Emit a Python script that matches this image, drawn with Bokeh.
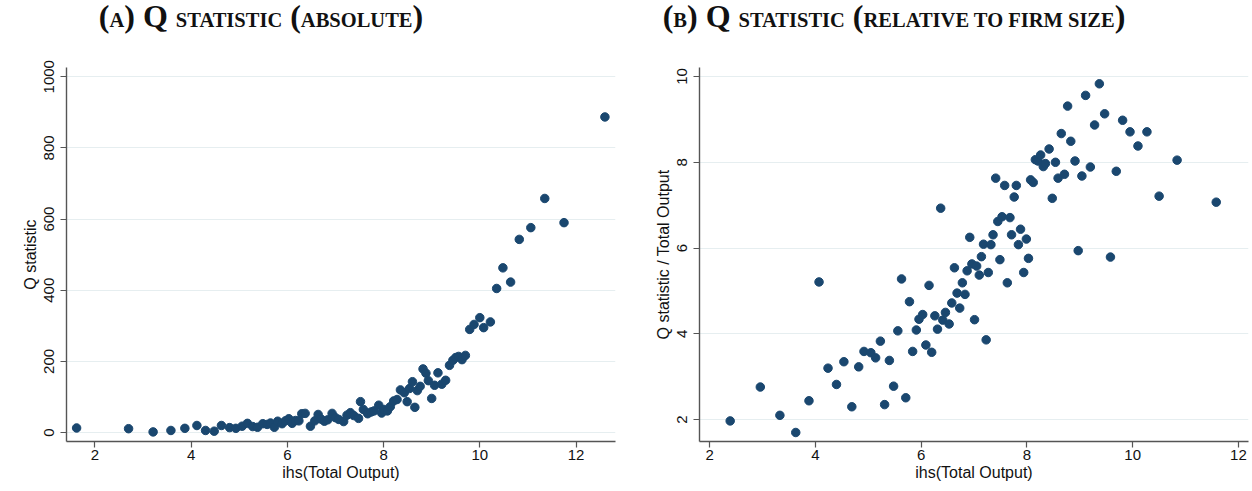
from bokeh.plotting import figure
from bokeh.layouts import row, column
from bokeh.models import Div, FixedTicker, Range1d
from bokeh.embed import file_html
from bokeh.resources import INLINE

# ---- data ----
abs_x = [1.62, 2.70, 3.21, 3.58, 3.87, 4.12, 4.30, 4.48, 4.63, 4.80, 4.93, 5.06, 5.17, 5.28,
         5.38, 5.49, 5.58, 5.65, 5.73, 5.80, 5.89, 5.96, 6.03, 6.10, 6.17, 6.24, 6.30, 6.37,
         6.48, 6.57, 6.64, 6.70, 6.77, 6.84, 6.93, 7.00, 7.07, 7.17, 7.24, 7.31, 7.38, 7.48,
         7.52, 7.58, 7.67, 7.74, 7.80, 7.90, 7.96, 8.01, 8.08, 8.14, 8.21, 8.28, 8.35, 8.43,
         8.49, 8.54, 8.60, 8.65, 8.70, 8.76, 8.82, 8.88, 8.93, 9.00, 9.06, 9.13, 9.21, 9.29,
         9.37, 9.44, 9.50, 9.56, 9.63, 9.70, 9.79, 9.88, 10.00, 10.08, 10.22, 10.35, 10.48,
         10.64, 10.82, 11.06, 11.35, 11.75, 12.60]
abs_y = [13, 11, 2, 6, 12, 20, 6, 4, 20, 14, 12, 18, 26, 17,
         15, 25, 23, 27, 15, 32, 25, 33, 39, 26, 34, 33, 53, 54,
         18, 33, 51, 38, 32, 36, 54, 42, 37, 31, 49, 56, 48, 40,
         87, 65, 53, 58, 61, 77, 55, 65, 61, 73, 89, 93, 120, 112,
         87, 124, 143, 71, 118, 130, 179, 167, 146, 96, 133, 168, 136, 147,
         189, 203, 211, 214, 205, 217, 290, 304, 323, 295, 311, 405, 463,
         423, 543, 576, 658, 590, 887]

rel_x = [2.39, 2.96, 3.33, 3.63, 3.88, 4.07, 4.24, 4.40, 4.54, 4.69, 4.82, 4.92, 5.05, 5.14,
         5.23, 5.31, 5.40, 5.48, 5.56, 5.63, 5.71, 5.78, 5.84, 5.91, 5.96, 6.03, 6.09, 6.15,
         6.20, 6.26, 6.31, 6.37, 6.41, 6.46, 6.53, 6.58, 6.63, 6.68, 6.73, 6.78, 6.83, 6.87,
         6.92, 6.96, 7.01, 7.05, 7.10, 7.14, 7.18, 7.23, 7.27, 7.32, 7.36, 7.41, 7.45, 7.49,
         7.53, 7.58, 7.63, 7.68, 7.71, 7.76, 7.80, 7.84, 7.88, 7.94, 7.99, 8.03, 8.07, 8.12,
         8.16, 8.21, 8.26, 8.31, 8.35, 8.42, 8.48, 8.54, 8.59, 8.65, 8.71, 8.77, 8.83, 8.91,
         8.97, 9.04, 9.11, 9.20, 9.28, 9.37, 9.47, 9.58, 9.69, 9.81, 9.95, 10.10, 10.27,
         10.50, 10.84, 11.58]
rel_y = [1.97, 2.76, 2.10, 1.70, 2.44, 5.21, 3.20, 2.82, 3.35, 2.30, 3.23, 3.59, 3.56, 3.44,
         3.83, 2.35, 3.38, 2.78, 4.07, 5.28, 2.51, 4.75, 3.59, 4.09, 4.34, 4.45, 3.74, 5.13,
         3.57, 4.42, 4.11, 6.93, 4.32, 4.50, 4.23, 4.72, 5.54, 4.95, 4.60, 5.19, 4.92, 5.47,
         6.25, 5.63, 4.33, 5.58, 5.37, 5.80, 6.09, 3.86, 5.43, 6.08, 6.31, 7.63, 6.62, 5.73,
         6.73, 7.46, 5.19, 6.71, 6.31, 7.19, 7.46, 6.08, 6.44, 5.43, 6.21, 5.76, 7.59, 7.53,
         8.06, 8.03, 8.17, 7.90, 7.97, 8.31, 7.16, 8.00, 7.63, 8.67, 7.72, 9.31, 8.49, 8.03,
         5.94, 7.68, 9.56, 7.89, 8.87, 9.83, 9.13, 5.79, 7.79, 8.98, 8.71, 8.38, 8.71,
         7.21, 8.05, 7.07]

x_ticks = [2, 4, 6, 8, 10, 12]
abs_y_ticks = [0, 200, 400, 600, 800, 1000]
rel_y_ticks = [2, 4, 6, 8, 10]

x_label = "ihs(Total Output)"
abs_y_label = "Q statistic"
rel_y_label = "Q statistic / Total Output"

MARKER = "#1a476f"
GRID = "#e6eef0"
AXIS = "#555555"
SANS = "Liberation Sans"


def make_fig(xs, ys, xr, yr, yticks, ylabel, width, bl, br):
    p = figure(width=width, height=435, x_range=Range1d(*xr), y_range=Range1d(*yr),
               output_backend="svg", toolbar_location=None,
               min_border_left=bl, min_border_right=br, min_border_top=19,
               min_border_bottom=39)
    p.outline_line_color = None
    p.background_fill_color = "white"
    p.border_fill_color = "white"
    p.scatter(xs, ys, size=8.5, fill_color=MARKER, line_color=MARKER)

    p.xaxis.ticker = FixedTicker(ticks=x_ticks)
    p.yaxis.ticker = FixedTicker(ticks=yticks)
    p.xgrid.grid_line_color = None
    p.ygrid.grid_line_color = GRID
    p.ygrid.grid_line_width = 1.2

    for ax in (p.xaxis[0], p.yaxis[0]):
        ax.axis_line_color = AXIS
        ax.axis_line_width = 1.4
        ax.major_tick_line_color = AXIS
        ax.major_tick_line_width = 1.2
        ax.major_tick_out = 6
        ax.major_tick_in = 0
        ax.minor_tick_line_color = None
        ax.major_label_text_font = SANS
        ax.major_label_text_font_size = "15px"
        ax.major_label_text_color = "#111111"
        ax.axis_label_text_font = SANS
        ax.axis_label_text_font_size = "16px"
        ax.axis_label_text_font_style = "normal"
        ax.axis_label_text_color = "#111111"

    p.xaxis.axis_label = x_label
    p.yaxis.axis_label = ylabel
    p.xaxis.major_label_standoff = 2
    p.xaxis.axis_label_standoff = 1
    p.yaxis.major_label_orientation = "vertical"
    p.yaxis.major_label_standoff = 6
    p.yaxis.axis_label_standoff = 3
    return p


def make_title(words, width, center):
    parts = []
    for txt, is_small in words:
        if is_small:
            parts.append('<span style="font-size:20.5px;">%s</span>' % txt)
        else:
            parts.append(txt)
    html = ('<div style="width:%dpx;text-align:center;font-family:\'Liberation Serif\';'
            'font-size:32px;font-weight:bold;line-height:0.7;padding-top:5px;color:#111;'
            'white-space:nowrap;">%s</div>' % (2 * center, "".join(parts)))
    return Div(text=html, width=width, height=48, margin=0)


p1 = make_fig(abs_x, abs_y, (1.41, 12.82), (-25, 1026), abs_y_ticks, abs_y_label, 640, 66, 25)
p2 = make_fig(rel_x, rel_y, (1.81, 12.19), (1.49, 10.21), rel_y_ticks, rel_y_label, 610, 59, 2)

t1 = make_title([("(", False), ("A", True), (") Q ", False), ("STATISTIC", True),
                 (" (", False), ("ABSOLUTE", True), (")", False)], 640, 261)
t2 = make_title([("(", False), ("B", True), (") Q ", False), ("STATISTIC", True),
                 (" (", False), ("RELATIVE TO FIRM SIZE", True), (")", False)], 610, 254)

layout = row(column(t1, p1), column(t2, p2))

open("out.html", "w").write(file_html(layout, INLINE))
